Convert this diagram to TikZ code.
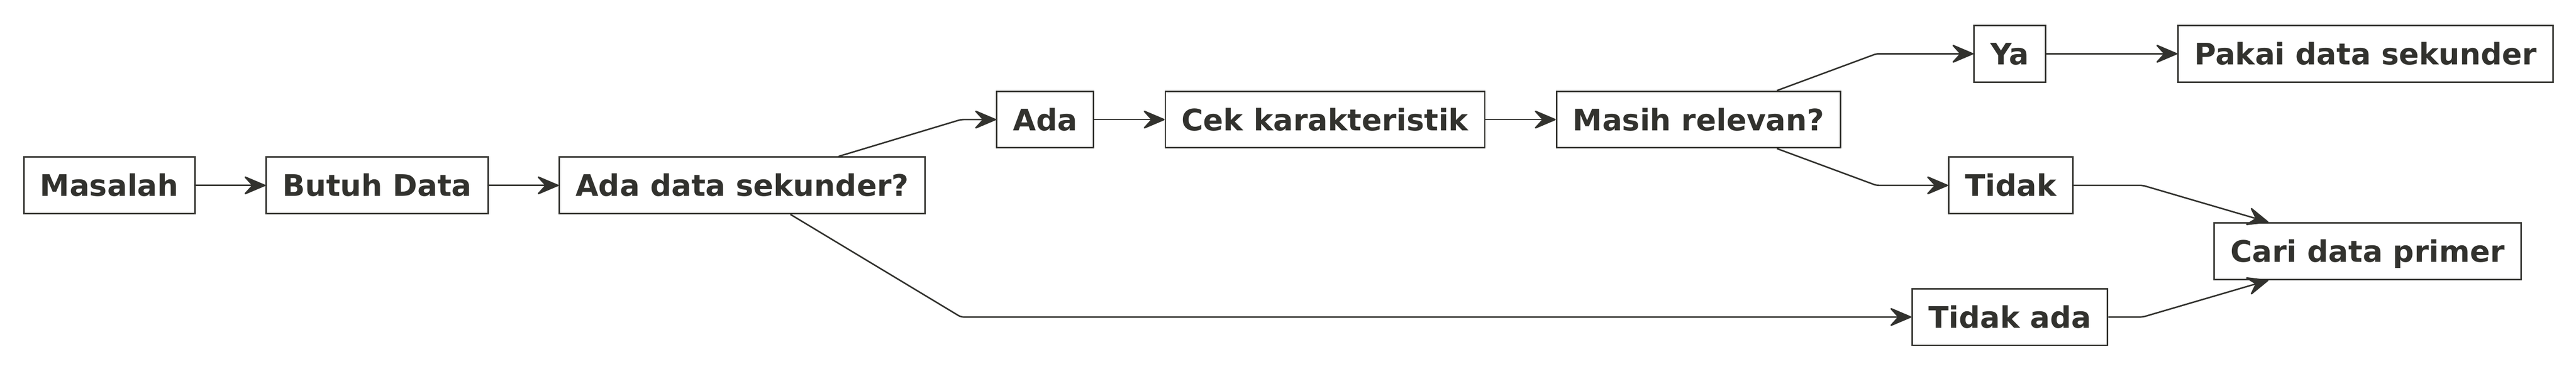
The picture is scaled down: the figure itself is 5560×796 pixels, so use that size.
\documentclass[tikz,border=0pt]{standalone}
\usepackage{fontspec}
\setmainfont{DejaVu Sans}
\usetikzlibrary{arrows.meta}
\definecolor{ink}{HTML}{32322E}
\tikzset{
  box/.style={draw=ink, fill=white, line width=0.8pt, text=ink,
    font=\bfseries\fontsize{16}{19}\selectfont,
    inner xsep=8.8pt, inner ysep=0pt, minimum height=30.5pt,
    text height=11.7pt, text depth=0pt},
  flow/.style={draw=ink, line width=0.8pt, rounded corners=1.5pt,
    -{Stealth[length=13pt,width=11pt,inset=5pt,round]}}
}

\begin{document}
\begin{tikzpicture}[x=0.25pt,y=-0.25pt]
			%%%%% START %%%%%
			
			\useasboundingbox (0,0) rectangle (5560,796);
			
			\node[box] (masalah) at (236,400) {Masalah};
			\node[box] (butuh) at (814,400) {Butuh Data};
			\node[box] (adadata) at (1602,400) {Ada data sekunder?};
			
			\node[box] (ada) at (2256,258) {Ada};
			\node[box] (cek) at (2860,258) {Cek karakteristik};
			\node[box] (masih) at (3666,258) {Masih relevan?};
			
			\node[box] (ya) at (4338,116) {Ya};
			\node[box] (tidak) at (4340,400) {Tidak};
			\node[box] (tidakada) at (4338,684) {Tidak ada};
			
			\node[box] (pakai) at (5106,116) {Pakai data sekunder};
			\node[box] (cari) at (5110,542) {Cari data primer};
			
			\coordinate (k1) at (2074,258);
			\coordinate (k2) at (2074,684);
			\coordinate (k3) at (4050,116);
			\coordinate (k4) at (4050,400);
			\coordinate (k5) at (4625,400);
			\coordinate (k6) at (4625,684);
			
			\draw[flow] (masalah) -- (butuh);
			\draw[flow] (butuh) -- (adadata);
			\draw[flow] (adadata) -- (k1) -- (ada);
			\draw[flow] (adadata) -- (k2) -- (tidakada);
			\draw[flow] (ada) -- (cek);
			\draw[flow] (cek) -- (masih);
			\draw[flow] (masih) -- (k3) -- (ya);
			\draw[flow] (masih) -- (k4) -- (tidak);
			\draw[flow] (ya) -- (pakai);
			\draw[flow] (tidak) -- (k5) -- (cari);
			\draw[flow] (tidakada) -- (k6) -- (cari);
			
			%%%%% END %%%%%
\end{tikzpicture}
\end{document}
